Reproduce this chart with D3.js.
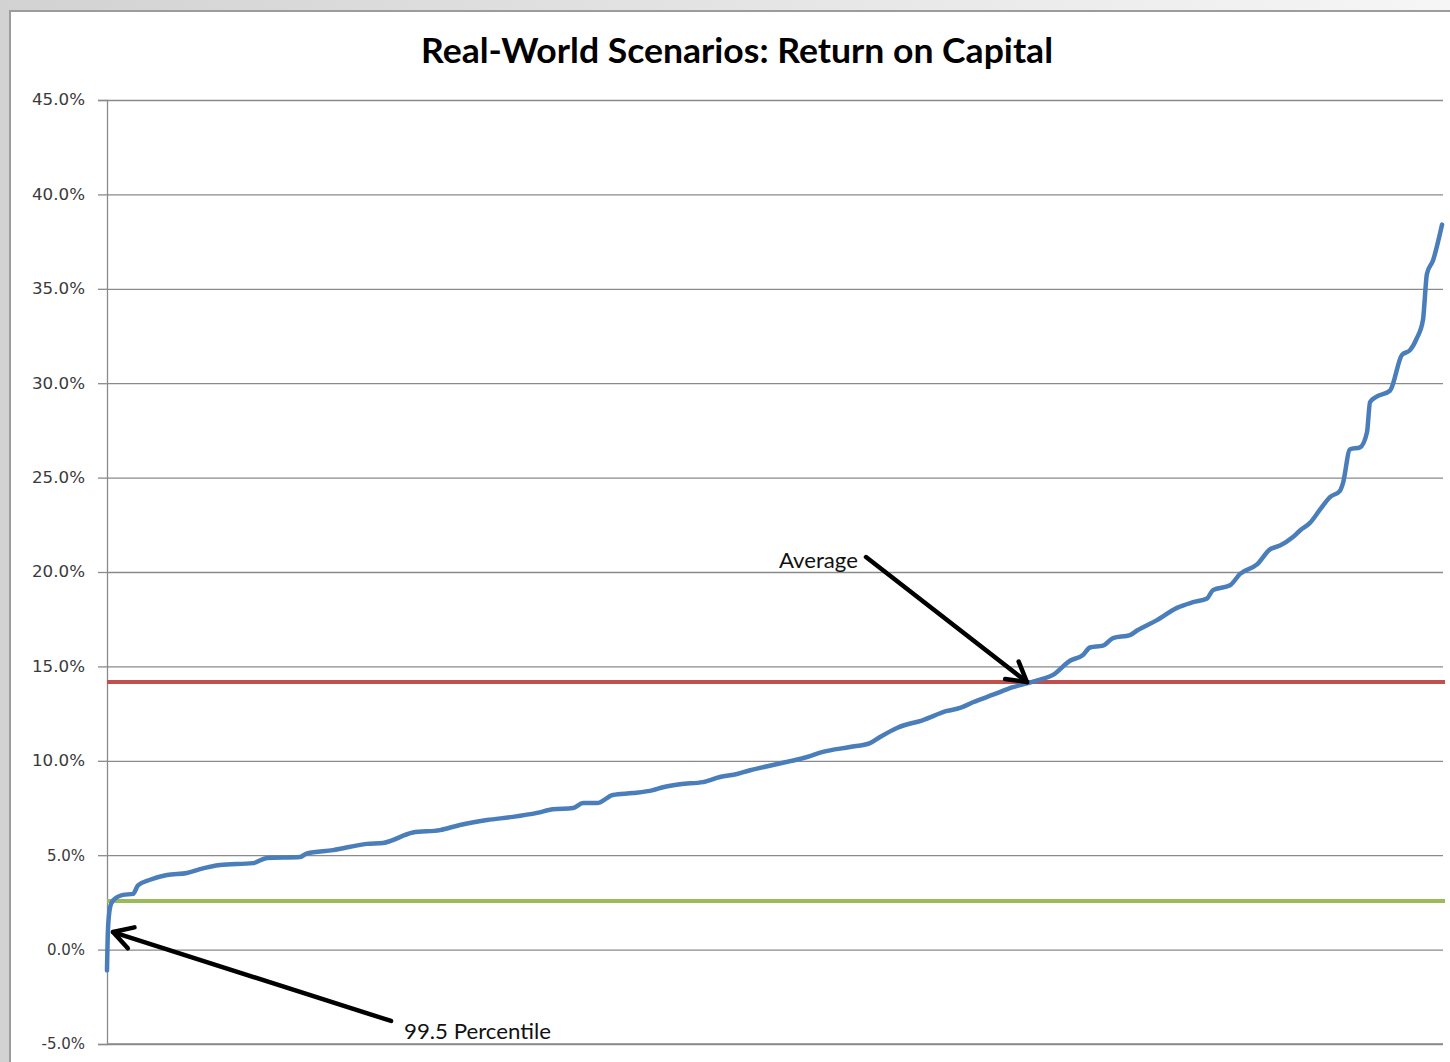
<!DOCTYPE html>
<html>
<head>
<meta charset="utf-8">
<script src="https://cdn.jsdelivr.net/npm/d3@7"></script>
<style>
  html, body { margin: 0; padding: 0; overflow: hidden; background: #ffffff; }
  svg { display: block; }
</style>
</head>
<body>
<svg id="chart" width="1450" height="1062"></svg>
<script>
// Scenario rank (percentile of the sorted scenario set) and return on capital (%)
const scenarioPercentile = [0, 0.07, 0.22, 0.45, 1.2, 1.95, 2.32, 3.22, 4.49, 5.99, 6.96, 8.46, 10.93, 11.98,
  14.45, 14.97, 16.92, 19.46, 20.66, 22.9, 24.93, 26.42, 28.44, 30.39, 32.19, 33.38, 34.88, 35.63, 36.68,
  37.87, 39.37, 40.87, 41.62, 42.89, 44.61, 45.88, 47.16, 48.13, 49.85, 52.40, 53.59, 55.61, 57.11, 57.86,
  59.13, 61.08, 62.87, 63.85, 64.82, 66.32, 67.81, 68.86, 69.84, 70.81, 72.08, 73.05, 73.58, 74.55, 75.30,
  76.57, 77.10, 78.59, 80.09, 81.29, 82.34, 82.78, 84.06, 84.81, 86.08, 87.05, 87.80, 88.77, 89.30, 90.04,
  90.79, 91.54, 92.29, 92.51, 93.04, 93.79, 94.31, 94.54, 95.06, 96.03, 96.93, 97.53, 98.05, 98.50, 98.80,
  99.25, 99.93];
const returnOnCapital = [-1.1, 1.0, 2.2, 2.6, 2.9, 2.95, 3.4, 3.7, 3.95, 4.06, 4.26, 4.48, 4.58, 4.85,
  4.9, 5.1, 5.27, 5.6, 5.65, 6.2, 6.33, 6.6, 6.86, 7.03, 7.24, 7.43, 7.5, 7.76, 7.76,
  8.19, 8.29, 8.45, 8.6, 8.76, 8.87, 9.14, 9.3, 9.5, 9.78, 10.2, 10.47, 10.73, 10.94, 11.26,
  11.74, 12.16, 12.64, 12.8, 13.1, 13.5, 13.9, 14.1, 14.3, 14.55, 15.3, 15.6, 16.0, 16.1, 16.5,
  16.66, 16.9, 17.45, 18.1, 18.4, 18.6, 19.04, 19.3, 19.9, 20.4, 21.2, 21.4, 21.85, 22.2, 22.6,
  23.3, 23.97, 24.3, 24.7, 26.5, 26.6, 27.4, 29.0, 29.3, 29.6, 31.5, 31.75, 32.4, 33.35, 35.8,
  36.5, 38.4];

// Reference levels (%)
const averageReturn = 14.17;
const percentile995Level = 2.57;

// Y-axis ticks (%)
const yTicks = [-5, 0, 5, 10, 15, 20, 25, 30, 35, 40, 45];

// Callouts: arrow tail, arrow tip and label anchor in data units (percentile, %)
const callouts = [
  { text: "Average", tail: [56.81, 20.79], tip: [68.86, averageReturn], label: [56.21, 20.2], anchor: "end", width: 79 },
  { text: "99.5 Percentile", tail: [21.26, -3.78], tip: [0.45, 0.93], label: [22.23, -4.74], anchor: "start", width: 147 }
];

const title = "Real-World Scenarios: Return on Capital";

const svg = d3.select("#chart");
const W = 1450, H = 1062;

// Window background and chart frame
const defs = svg.append("defs");
const bg = defs.append("linearGradient").attr("id", "bgGrad").attr("x1", 0).attr("x2", 1).attr("y1", 0).attr("y2", 0);
bg.append("stop").attr("offset", "0%").attr("stop-color", "#d2d2d2");
bg.append("stop").attr("offset", "100%").attr("stop-color", "#f6f6f6");
svg.append("rect").attr("width", W).attr("height", H).attr("fill", "url(#bgGrad)");
svg.append("rect").attr("x", 10).attr("y", 11).attr("width", W).attr("height", H)
  .attr("fill", "#ffffff").attr("stroke", "#9c9c9c").attr("stroke-width", 2);

const plot = { left: 107, right: 1443, top: 100, bottom: 1044 };

const x = d3.scaleLinear().domain([0, 100]).range([plot.left, plot.right]);
const y = d3.scaleLinear().domain([-5, 45]).range([plot.bottom, plot.top]);

// Gridlines
const grid = svg.append("g").attr("transform", `translate(${plot.left},0)`)
  .call(d3.axisLeft(y).tickValues(yTicks).tickSize(-(plot.right - plot.left)).tickFormat(""));
grid.select(".domain").remove();
grid.selectAll("line").attr("stroke", "#8a8a8a").attr("stroke-width", 1.3);

// Y axis with ticks and labels
const yAxis = svg.append("g").attr("transform", `translate(${plot.left},0)`)
  .call(d3.axisLeft(y).tickValues(yTicks).tickSize(9).tickPadding(13)
    .tickFormat(d => d.toFixed(1) + "%"));
yAxis.select(".domain").attr("stroke", "#8a8a8a").attr("stroke-width", 1.3);
yAxis.selectAll("line").attr("stroke", "#8a8a8a").attr("stroke-width", 1.3);
yAxis.selectAll("text").attr("font-family", "'DejaVu Sans', sans-serif").attr("font-size", 15)
  .attr("fill", "#3a3a3a");
yAxis.selectAll("text").filter(d => d >= 10).attr("textLength", 53).attr("lengthAdjust", "spacingAndGlyphs");

// Horizontal axis line
svg.append("line").attr("x1", plot.left).attr("x2", plot.right)
  .attr("y1", y(-5)).attr("y2", y(-5)).attr("stroke", "#8a8a8a").attr("stroke-width", 1.3);

// Reference lines
svg.append("line").attr("x1", x(0)).attr("x2", x(100) + 2)
  .attr("y1", y(averageReturn)).attr("y2", y(averageReturn))
  .attr("stroke", "#c0504d").attr("stroke-width", 4);
svg.append("line").attr("x1", x(0)).attr("x2", x(100) + 2)
  .attr("y1", y(percentile995Level)).attr("y2", y(percentile995Level))
  .attr("stroke", "#9bbb59").attr("stroke-width", 4);

// Sorted scenario returns
const series = scenarioPercentile.map((p, i) => ({ p, v: returnOnCapital[i] }));
svg.append("path").datum(series)
  .attr("fill", "none").attr("stroke", "#4a7ebb").attr("stroke-width", 4.5)
  .attr("stroke-linejoin", "round").attr("stroke-linecap", "round")
  .attr("d", d3.line().x(d => x(d.p)).y(d => y(d.v)).curve(d3.curveMonotoneX));

// Callout arrows with open heads
callouts.forEach(c => {
  const x0 = x(c.tail[0]), y0 = y(c.tail[1]);
  const x1 = x(c.tip[0]), y1 = y(c.tip[1]);
  const ang = Math.atan2(y1 - y0, x1 - x0);
  const len = 22, spread = Math.PI / 6;
  const g = svg.append("g").attr("stroke", "#000").attr("stroke-width", 4.5)
    .attr("stroke-linecap", "round").attr("stroke-linejoin", "round").attr("fill", "none");
  g.append("line").attr("x1", x0).attr("y1", y0).attr("x2", x1).attr("y2", y1);
  g.append("path").attr("d", d3.line()([
    [x1 - len * Math.cos(ang - spread), y1 - len * Math.sin(ang - spread)],
    [x1, y1],
    [x1 - len * Math.cos(ang + spread), y1 - len * Math.sin(ang + spread)]
  ]));
  svg.append("text").attr("x", x(c.label[0])).attr("y", y(c.label[1]))
    .attr("text-anchor", c.anchor)
    .attr("font-family", "Lato, 'Open Sans', sans-serif").attr("font-size", 21)
    .attr("fill", "#111111")
    .attr("textLength", c.width).attr("lengthAdjust", "spacingAndGlyphs")
    .text(c.text);
});

// Title
svg.append("text").attr("x", 737).attr("y", 63).attr("text-anchor", "middle")
  .attr("font-family", "Lato, 'Open Sans', sans-serif").attr("font-weight", "bold")
  .attr("font-size", 35).attr("fill", "#000000")
  .attr("textLength", 632).attr("lengthAdjust", "spacingAndGlyphs")
  .text(title);
</script>
</body>
</html>
